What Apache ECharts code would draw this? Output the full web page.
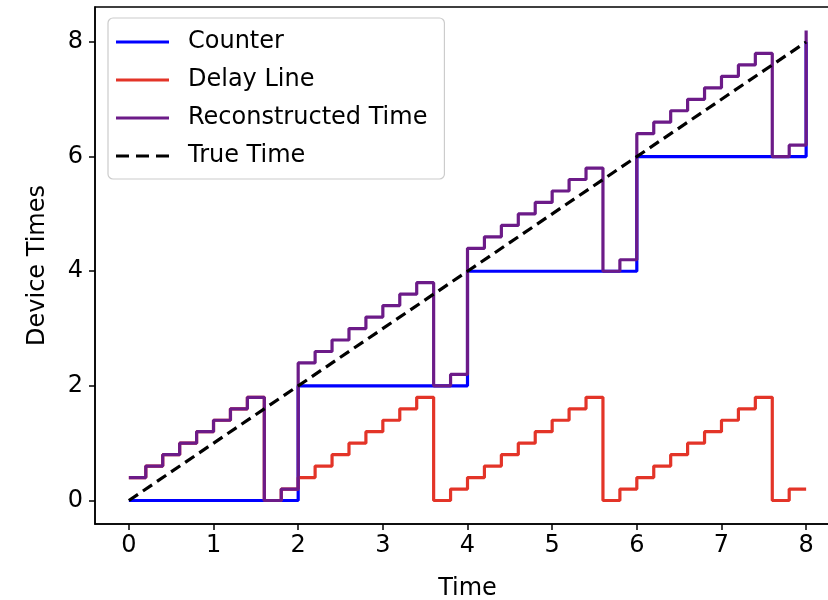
<!DOCTYPE html>
<html>
<head>
<meta charset="utf-8">
<script src="https://cdn.jsdelivr.net/npm/echarts@6/dist/echarts.min.js"></script>
<style>html,body{margin:0;padding:0;background:#fff;}#c{width:828px;height:600px;}</style>
</head>
<body>
<div id="c"></div>
<script>
const time = [0,0.2,0.4,0.6,0.8,1.0,1.2,1.4,1.6,1.8,
              2.0,2.2,2.4,2.6,2.8,3.0,3.2,3.4,3.6,3.8,
              4.0,4.2,4.4,4.6,4.8,5.0,5.2,5.4,5.6,5.8,
              6.0,6.2,6.4,6.6,6.8,7.0,7.2,7.4,7.6,7.8,8.0];
const counter = [0,0,0,0,0,0,0,0,0,0,
                 2,2,2,2,2,2,2,2,2,2,
                 4,4,4,4,4,4,4,4,4,4,
                 6,6,6,6,6,6,6,6,6,6,8];
const delayLine = [0.4,0.6,0.8,1.0,1.2,1.4,1.6,1.8,0,0.2,
                   0.4,0.6,0.8,1.0,1.2,1.4,1.6,1.8,0,0.2,
                   0.4,0.6,0.8,1.0,1.2,1.4,1.6,1.8,0,0.2,
                   0.4,0.6,0.8,1.0,1.2,1.4,1.6,1.8,0,0.2,0.2];
const reconstructed = [0.4,0.6,0.8,1.0,1.2,1.4,1.6,1.8,0,0.2,
                       2.4,2.6,2.8,3.0,3.2,3.4,3.6,3.8,2,2.2,
                       4.4,4.6,4.8,5.0,5.2,5.4,5.6,5.8,4,4.2,
                       6.4,6.6,6.8,7.0,7.2,7.4,7.6,7.8,6,6.2,8.2];
const trueTimeX = [0, 8];
const trueTimeY = [0, 8];
const xTicks = [0,1,2,3,4,5,6,7,8];
const yTicks = [0,2,4,6,8];
const seriesNames = ['Counter','Delay Line','Reconstructed Time','True Time'];

const FONT = 'DejaVu Sans';
const pair = (xs, ys) => xs.map((x, i) => [x, ys[i]]);
const SOLID = 'path://M0,0h53v3h-53z';
const DASHED = 'path://M0,0h13v3h-13z M20,0h13v3h-13z M40,0h13v3h-13z';

const chart = echarts.init(document.getElementById('c'), null, {renderer: 'canvas'});
chart.setOption({
  animation: false,
  backgroundColor: '#ffffff',
  textStyle: {fontFamily: FONT},
  grid: {left: 95, top: 7, width: 745, height: 517, outerBoundsMode: 'none', containLabel: false,
         show: true, borderColor: '#000', borderWidth: 1.5, backgroundColor: 'transparent'},
  legend: {
    orient: 'vertical', left: 108, top: 18,
    data: [
      {name: seriesNames[0], icon: SOLID},
      {name: seriesNames[1], icon: SOLID},
      {name: seriesNames[2], icon: SOLID},
      {name: seriesNames[3], icon: DASHED}
    ],
    itemWidth: 53, itemHeight: 3, itemGap: 14,
    padding: [12, 17, 11, 8],
    borderColor: '#cccccc', borderWidth: 1.2, borderRadius: 5,
    backgroundColor: 'rgba(255,255,255,0.85)',
    textStyle: {fontFamily: FONT, fontSize: 24, color: '#000', lineHeight: 24, padding: [0,0,0,14]}
  },
  xAxis: {
    type: 'value', min: -0.4, max: 8.4,
    name: 'Time', nameLocation: 'middle', nameGap: 53,
    nameTextStyle: {fontFamily: FONT, fontSize: 24, color: '#000'},
    axisLine: {show: true, onZero: false, lineStyle: {color: '#000', width: 1.5}},
    axisTick: {show: true, inside: false, length: 6, customValues: xTicks, lineStyle: {color: '#000', width: 1.5}},
    axisLabel: {show: true, customValues: xTicks, fontFamily: FONT, fontSize: 24, color: '#000', margin: 10},
    splitLine: {show: false}
  },
  yAxis: {
    type: 'value', min: -0.41, max: 8.61,
    name: 'Device Times', nameLocation: 'middle', nameGap: 45, nameRotate: 90,
    nameTextStyle: {fontFamily: FONT, fontSize: 24, color: '#000'},
    axisLine: {show: true, onZero: false, lineStyle: {color: '#000', width: 1.5}},
    axisTick: {show: true, inside: false, length: 6, customValues: yTicks, lineStyle: {color: '#000', width: 1.5}},
    axisLabel: {show: true, customValues: yTicks, fontFamily: FONT, fontSize: 24, color: '#000', margin: 12},
    splitLine: {show: false}
  },
  series: [
    {name: seriesNames[0], type: 'line', step: 'end', data: pair(time, counter), symbol: 'none',
     lineStyle: {color: '#0000ff', width: 3.2}, itemStyle: {color: '#0000ff'}},
    {name: seriesNames[1], type: 'line', step: 'end', data: pair(time, delayLine), symbol: 'none',
     lineStyle: {color: '#e33428', width: 3.2}, itemStyle: {color: '#e33428'}},
    {name: seriesNames[2], type: 'line', step: 'end', data: pair(time, reconstructed), symbol: 'none',
     lineStyle: {color: '#6c1b88', width: 3.2}, itemStyle: {color: '#6c1b88'}},
    {name: seriesNames[3], type: 'line', data: pair(trueTimeX, trueTimeY), symbol: 'none',
     lineStyle: {color: '#000', width: 3.2, type: [11, 6]}, itemStyle: {color: '#000'}}
  ]
});
</script>
</body>
</html>
